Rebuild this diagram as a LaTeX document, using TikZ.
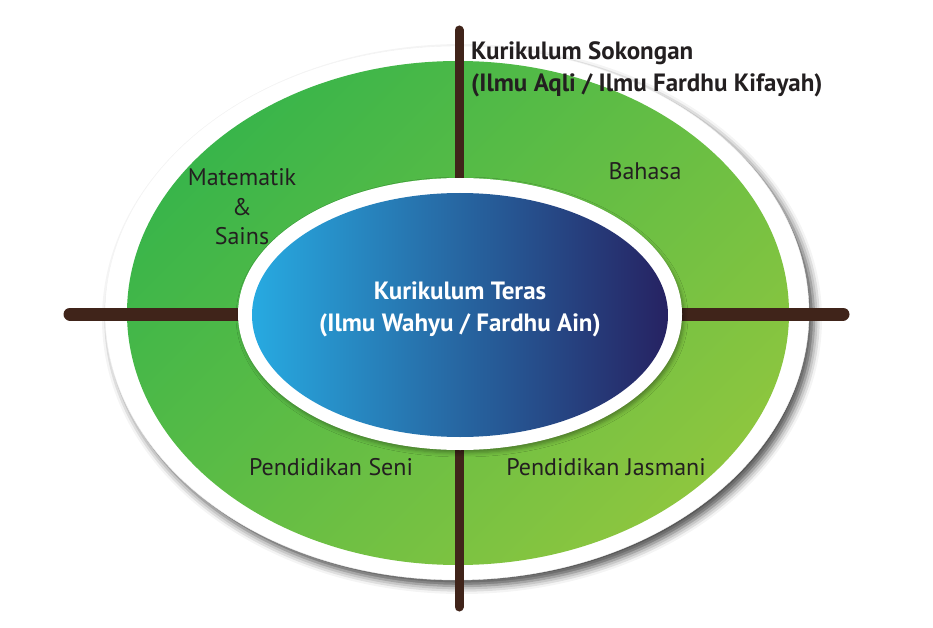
\documentclass[tikz,border=0pt]{standalone}
\usepackage{fontspec}
\setmainfont{PT Sans}
\usetikzlibrary{positioning,shadows.blur}
\definecolor{bark}{HTML}{40241A}
\definecolor{leafdark}{HTML}{39B54A}
\definecolor{leaflight}{HTML}{8DC63F}
\definecolor{skyblue}{HTML}{27AAE1}
\definecolor{navy}{HTML}{262262}
\definecolor{ink}{HTML}{231F20}

\begin{document}
\begin{tikzpicture}
  [x=1pt,y=-1pt,
   subject/.style={text=ink,font=\fontsize{24}{29.5}\selectfont,align=center,inner sep=0pt},
   core/.style={text=white,font=\bfseries\fontsize{25}{32}\selectfont,align=center,inner sep=0pt},
   heading/.style={text=ink,font=\bfseries\fontsize{25}{32}\selectfont,align=left,inner sep=0pt},
   bar/.style={draw=bark,line cap=round}]
  \useasboundingbox (0,0) rectangle (933,628);

  % outer ring and green field
  \fill[white,draw=black!5,blur shadow={shadow xshift=5pt,shadow yshift=-6pt,shadow blur radius=8pt,shadow opacity=70}]
    (457,313) ellipse [x radius=352,y radius=267];
  \shade[top color=leafdark,bottom color=leaflight,shading angle=45]
    (458,313) ellipse [x radius=331,y radius=252];

  % cross
  \coordinate (top) at (459,30);
  \coordinate (bottom) at (459,607);
  \coordinate (left) at (70,314);
  \coordinate (right) at (843,314);
  \foreach \from/\to/\w in {top/bottom/9pt, left/right/13pt}
    \draw[bar,line width=\w] (\from) -- (\to);

  % core
  \fill[white,blur shadow={shadow xshift=2pt,shadow yshift=-3pt,shadow blur radius=4pt,shadow opacity=35}]
    (460,314) ellipse [x radius=222,y radius=136];
  \shade[left color=skyblue,right color=navy]
    (460,315) ellipse [x radius=208,y radius=122];

  \node[core] (teras) at (460,309) {Kurikulum Teras\\(Ilmu Wahyu / Fardhu Ain)};
  \node[heading,anchor=west] (sokongan) at (471,69) {Kurikulum Sokongan\\(Ilmu Aqli / Ilmu Fardhu Kifayah)};

  \node[subject] (sains) at (242,207) {Matematik\\\&\\Sains};
  \node[subject] (bahasa) at (645,171) {Bahasa};
  \node[subject] (seni) at (331,467) {Pendidikan Seni};
  \node[subject] (jasmani) at (606,467) {Pendidikan Jasmani};
\end{tikzpicture}
\end{document}
